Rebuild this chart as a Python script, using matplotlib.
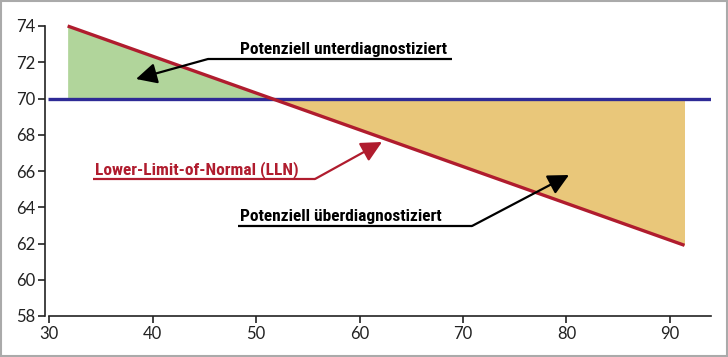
import matplotlib
matplotlib.use("Agg")
import matplotlib.pyplot as plt
import numpy as np
from matplotlib import font_manager

# ---- data ----
lln_age = [31.8, 91.4]
lln_value = [74.0, 61.9]
fixed_ratio = 70.0
xticks = [30, 40, 50, 60, 70, 80, 90]
yticks = [58, 60, 62, 64, 66, 68, 70, 72, 74]
label_under = "Potenziell unterdiagnostiziert"
label_over = "Potenziell überdiagnostiziert"
label_lln = "Lower-Limit-of-Normal (LLN)"

RED = "#b01c2e"
BLUE = "#2e2a96"
GREEN = "#b1d59b"
ORANGE = "#e9c77a"

names = {f.name for f in font_manager.fontManager.ttflist}
bold_family = [f for f in ["Roboto Condensed", "Liberation Sans Narrow", "Roboto", "DejaVu Sans"] if f in names]
tick_family = [f for f in ["Lato", "DejaVu Sans"] if f in names]

fig = plt.figure(figsize=(7.28, 3.57), dpi=100)
fig.patch.set_facecolor("white")
ax = fig.add_axes([45/728, 41/357, 666/728, 306/357])

ax.set_xlim(30 - 4/10.35, 30 - 4/10.35 + 666/10.35)
ax.set_ylim(58, 58 + 306/18.125)

xs = np.linspace(lln_age[0], lln_age[1], 400)
ys = np.interp(xs, lln_age, lln_value)
ax.fill_between(xs, ys, fixed_ratio, where=ys >= fixed_ratio, color=GREEN, lw=0, interpolate=True, zorder=1)
ax.fill_between(xs, ys, fixed_ratio, where=ys <= fixed_ratio, color=ORANGE, lw=0, interpolate=True, zorder=1)

ax.axhline(fixed_ratio, xmin=0.005, xmax=1.0, color=BLUE, lw=2.4, zorder=3, solid_capstyle="butt")
ax.plot(lln_age, lln_value, color=RED, lw=2.4, zorder=4, solid_capstyle="butt")

for s in ["top", "right"]:
    ax.spines[s].set_visible(False)
ax.spines["left"].set_bounds(58, 74)
ax.spines["bottom"].set_bounds(30, ax.get_xlim()[1])
for s in ["left", "bottom"]:
    ax.spines[s].set_linewidth(1.2)
    ax.spines[s].set_color("#222222")

ax.set_xticks(xticks)
ax.set_yticks(yticks)
ax.tick_params(axis="both", length=5, width=1.2, color="#222222", labelsize=12, labelcolor="#222222", pad=2)
for lab in ax.get_xticklabels() + ax.get_yticklabels():
    lab.set_family(tick_family)
    lab.set_fontweight("normal")
    lab.set_color("#222222")

def px2d(px, py):
    return 30 + (px - 49) / 10.35, 74 - (py - 26) / 18.125

def callout(text, color, text_px, underline_px, tip_px, fs):
    tx, ty = px2d(*text_px)
    ax.text(tx, ty, text, color=color, fontsize=fs, fontweight="bold",
            family=bold_family, ha="left", va="baseline", zorder=6)
    (x0, y0) = px2d(underline_px[0], underline_px[2])
    (x1, _) = px2d(underline_px[1], underline_px[2])
    ax.plot([x1, x0], [y0, y0], color=color, lw=1.6, zorder=6, solid_capstyle="butt")
    elbow = (x0, y0) if underline_px[3] == "left" else (x1, y0)
    ax.annotate("", xy=px2d(*tip_px), xytext=elbow,
                arrowprops=dict(arrowstyle="-|>,head_length=0.9,head_width=0.45",
                                color=color, lw=1.6, shrinkA=0, shrinkB=0, mutation_scale=14),
                zorder=6)

callout(label_under, "black", (240, 54), (208, 452, 59, "left"), (136, 79), 12.5)
callout(label_lln, RED, (95, 174), (93, 315, 179, "right"), (382, 142), 12.5)
callout(label_over, "black", (240, 221), (238, 472, 226, "right"), (569, 175), 12.5)

# outer frame
fig.add_artist(plt.Rectangle((0.001, 0.002), 0.997, 0.996, transform=fig.transFigure,
                             fill=False, edgecolor="#aaaaaa", lw=1.5))

fig.savefig("out.png", dpi=100)
